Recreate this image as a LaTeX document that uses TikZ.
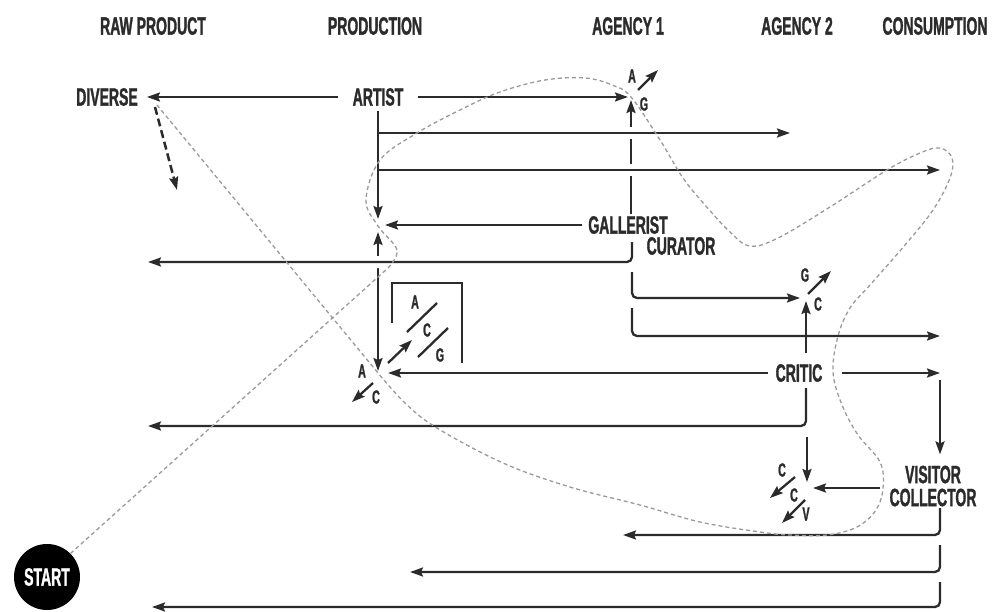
\documentclass[tikz,border=0pt]{standalone}
\usepackage{fontspec}
\usetikzlibrary{arrows.meta}
\newfontfamily\cf[FakeStretch=0.56,FakeBold=1.2]{Liberation Sans}
\definecolor{ink}{HTML}{2B2B2B}
\definecolor{dgray}{HTML}{9A9A9A}
\begin{document}
\begin{tikzpicture}[x=1pt,y=-1pt,
 lbl/.style={font=\cf\bfseries\fontsize{25}{22}\selectfont,text=ink,inner sep=0pt},
 sml/.style={font=\cf\bfseries\fontsize{19}{19}\selectfont,text=ink,inner sep=0pt},
 ln/.style={draw=ink,line width=2.3pt},
 arr/.style={ln,-{Stealth[length=13pt,width=9pt,inset=2pt]}},
 barr/.style={ln,{Stealth[length=13pt,width=9pt,inset=2pt]}-{Stealth[length=13pt,width=9pt,inset=2pt]}},
 halo/.style={preaction={draw=white,line width=12pt,-}},
 rc/.style={rounded corners=5pt},
 dotline/.style={draw=dgray,line width=1.3pt,dash pattern=on 4pt off 3pt},
 blkdash/.style={ln,line width=2.5pt,dash pattern=on 8pt off 4pt,-{Stealth[length=13pt,width=9pt,inset=2pt]}}
 ]
\useasboundingbox (0,0) rectangle (992,612);

% headers
\node[lbl] (hraw) at (153,26) {RAW PRODUCT};
\node[lbl] (hprod) at (375,26) {PRODUCTION};
\node[lbl] (hag1) at (628,26) {AGENCY 1};
\node[lbl] (hag2) at (797,26) {AGENCY 2};
\node[lbl] (hcons) at (935,26) {CONSUMPTION};

% main nodes
\node[lbl] (diverse) at (107,97) {DIVERSE};
\node[lbl] (artist) at (378,97) {ARTIST};
\node[lbl] (gallerist) at (628,225) {GALLERIST};
\node[lbl] (curator) at (681,246) {CURATOR};
\node[lbl] (critic) at (799,373) {CRITIC};
\node[lbl,align=center] (visitor) at (933,486) {VISITOR\\[1pt]COLLECTOR};
\node[circle,fill=black,minimum size=66pt,inner sep=0pt,text=white,
  font=\cf\bfseries\fontsize{25}{25}\selectfont] (start) at (47,577) {START};

% hubs
\coordinate (hAG) at (631,97);
\coordinate (hGAL) at (378,226);
\coordinate (hGC) at (806,298);
\coordinate (hACG) at (378,373);
\coordinate (hCCV) at (807,488);

% small letters
\node[sml] (agA) at (632,76) {A};
\node[sml] (agG) at (644,104) {G};
\node[sml] (gcG) at (805,275) {G};
\node[sml] (gcC) at (818,304) {C};
\node[sml] (acgA) at (362,371) {A};
\node[sml] (acgC) at (376,397) {C};
\node[sml] (bxA) at (415,302) {A};
\node[sml] (bxC) at (427,330) {C};
\node[sml] (bxG) at (440,355) {G};
\node[sml] (ccvC1) at (782,470) {C};
\node[sml] (ccvC2) at (794,495) {C};
\node[sml] (ccvV) at (806,514) {V};

% free coordinates
\coordinate (dvs) at (155,107); \coordinate (dve) at (177,190);
\coordinate (a1) at (378,133); \coordinate (a1e) at (790,133);
\coordinate (a2) at (378,170); \coordinate (a2e) at (940,170);
\coordinate (c1) at (632,242); \coordinate (c1e) at (148,262);
\coordinate (c2) at (632,272);
\coordinate (c3) at (632,308); \coordinate (c3e) at (940,336);
\coordinate (agNEs) at (638,90); \coordinate (agNEe) at (658,70);
\coordinate (gcs) at (808,294); \coordinate (gce) at (831,271);
\coordinate (acgNEs) at (388,363); \coordinate (acgNEe) at (412,340);
\coordinate (acgSWs) at (373,383); \coordinate (acgSWe) at (352,402);
\coordinate (crr) at (940,373);
\coordinate (cdl) at (148,426);
\coordinate (rcs) at (940,380);
\coordinate (ccvd) at (807,437);
\coordinate (ccv1s) at (795,477); \coordinate (ccv1e) at (770,498);
\coordinate (ccv2s) at (805,500); \coordinate (ccv2e) at (782,523);
\coordinate (v1) at (940,508); \coordinate (v1e) at (623,535);
\coordinate (v2) at (940,545); \coordinate (v2e) at (410,572);
\coordinate (v3) at (940,582); \coordinate (v3e) at (152,607);
\coordinate (dvd) at (157,105);

% lines that get interrupted
\draw[blkdash] (dvs) -- (dve);
\draw[arr,shorten <=2pt,shorten >=3pt] (gallerist.north -| hAG) -- (hAG);
\draw[barr,shorten <=6pt,shorten >=2pt] (hGAL) -- (hACG);
\draw[arr,halo] (a1) -- (a1e);
\draw[arr,halo] (a2) -- (a2e);
\draw[arr,halo,rc] (c1) |- (c1e);

% artist connectors
\draw[arr,shorten <=5pt,shorten >=7pt] (artist) -- (hGAL);
\draw[arr,shorten <=15pt,shorten >=9pt] (artist) -- (diverse);
\draw[arr,shorten <=15pt,shorten >=3pt] (artist) -- (hAG);
\draw[arr] (agNEs) -- (agNEe);

% gallerist / curator
\draw[arr,shorten <=6pt,shorten >=7pt] (gallerist.west) -- (gallerist.west -| hGAL);
\draw[arr,rc,shorten >=6pt] (c2) |- (hGC);
\draw[arr,rc] (c3) |- (c3e);
\draw[arr] (gcs) -- (gce);

% critic
\draw[arr,shorten <=11pt,shorten >=3pt] (critic.north -| hGC) -- (hGC);
\draw[arr,shorten <=19pt] (critic) -- (crr);
\draw[arr,shorten <=7pt,shorten >=10pt] (critic.west) -- (hACG);
\draw[arr,rc,shorten <=6pt] (critic.south -| hGC) |- (cdl);

% ACG hub
\draw[arr] (acgNEs) -- (acgNEe);
\draw[arr] (acgSWs) -- (acgSWe);
\draw[ln] (392,323) -- (392,283) -- (462,283) -- (462,363);
\draw[ln] (437,303) -- (407,332);
\draw[ln] (448,328) -- (418,357);

% visitor / collector
\draw[arr,shorten >=11pt] (rcs) -- (rcs |- visitor.north);
\draw[arr,shorten <=9pt,shorten >=6pt] (visitor.west |- hCCV) -- (hCCV);
\draw[arr,shorten >=6pt] (ccvd) -- (hCCV);
\draw[arr] (ccv1s) -- (ccv1e);
\draw[arr] (ccv2s) -- (ccv2e);
\draw[arr,rc] (v1) |- (v1e);
\draw[arr,rc] (v2) |- (v2e);
\draw[arr,rc] (v3) |- (v3e);

% grey dashed route
\draw[dotline] (start.45) -- plot[smooth,tension=0.6] coordinates {(388,268) (397,250) (378,226) (366,200) (380,160) (417,133) (460,110) (500,92) (545,80) (585,78) (612,85) (631,97) (660,140) (683,178) (705,205) (730,232) (750,246) (778,238) (830,207) (887,170) (920,153) (940,148) (952,158) (950,178) (933,210) (905,245) (870,285) (850,308) (838,336) (833,372) (842,405) (858,435) (880,462) (883,488) (876,510) (857,527) (827,535) (790,535) (760,532) (700,522) (640,505) (570,487) (503,463) (437,428) (405,403) (378,373)} -- (dvd);
\end{tikzpicture}
\end{document}
